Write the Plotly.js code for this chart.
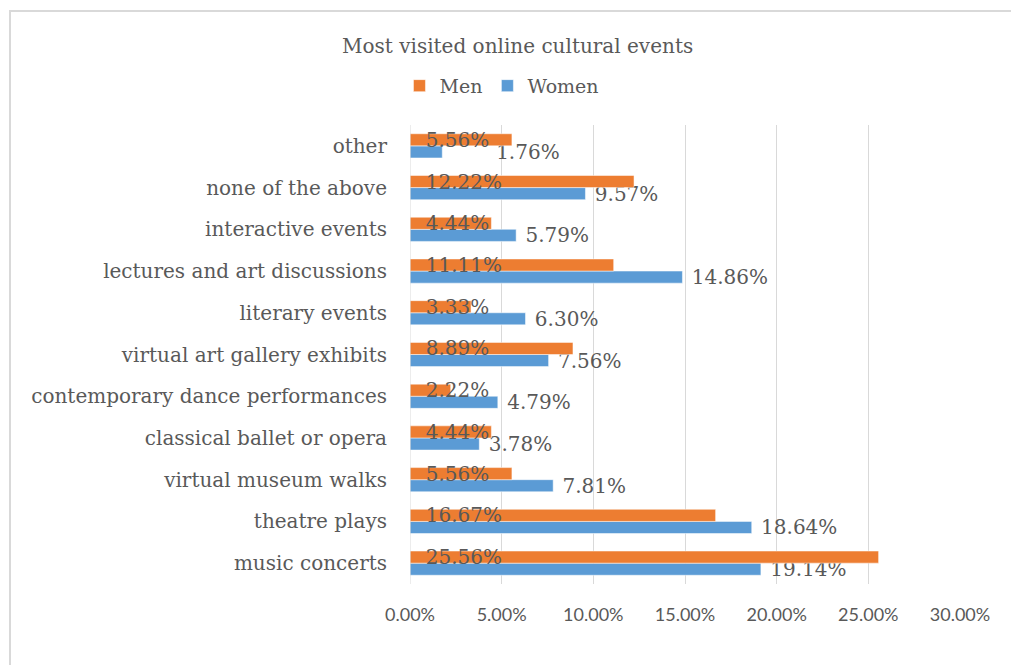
<!DOCTYPE html>
<html>
<head>
<meta charset="utf-8">
<script src="https://cdn.plot.ly/plotly-3.0.1.min.js"></script>
<style>
  html, body { margin: 0; padding: 0; background: #ffffff; }
  #wrap { position: relative; width: 1011px; height: 665px; overflow: hidden; }
  #chart { width: 1011px; height: 665px; }
  #frame { position: absolute; left: 9px; top: 10px; width: 1020px; height: 700px;
           border: 2px solid #d9d9d9; box-sizing: border-box; pointer-events: none; }
</style>
</head>
<body>
<div id="wrap">
  <div id="chart"></div>
  <div id="frame"></div>
</div>
<script>
const categories = [
  "music concerts",
  "theatre plays",
  "virtual museum walks",
  "classical ballet or opera",
  "contemporary dance performances",
  "virtual art gallery exhibits",
  "literary events",
  "lectures and art discussions",
  "interactive events",
  "none of the above",
  "other"
];
const menValues   = [25.56, 16.67, 5.56, 4.44, 2.22, 8.89, 3.33, 11.11, 4.44, 12.22, 5.56];
const womenValues = [19.14, 18.64, 7.81, 3.78, 4.79, 7.56, 6.30, 14.86, 5.79, 9.57, 1.76];
const xTicks = [0, 5, 10, 15, 20, 25, 30];
const xTickLabels = ["0.00%", "5.00%", "10.00%", "15.00%", "20.00%", "25.00%", "30.00%"];

const serif = "DejaVu Serif";
const gray = "#595959";
const nb = "\u00a0";

// Women labels sit just past the bar end; the "other" label is pushed clear of the Men label, as in the reference
const womenTemplates = categories.map(function (c) {
  return (c === "other" ? nb.repeat(8) : nb) + "%{x:.2f}%";
});

const women = {
  type: "bar", orientation: "h", name: "Women",
  y: categories, x: womenValues,
  marker: { color: "#5B9BD5", line: { color: "#ffffff", width: 0.5 } },
  texttemplate: womenTemplates,
  textposition: "outside",
  outsidetextfont: { family: serif, size: 20, color: gray },
  constraintext: "none",
  cliponaxis: false,
  legendrank: 2,
  hoverinfo: "skip"
};
const men = {
  type: "bar", orientation: "h", name: "Men",
  y: categories, x: menValues,
  marker: { color: "#ED7D31", line: { color: "#ffffff", width: 0.5 } },
  texttemplate: nb + nb + "%{x:.2f}%",
  textposition: "inside",
  insidetextanchor: "start",
  insidetextfont: { family: serif, size: 20, color: gray },
  constraintext: "none",
  cliponaxis: false,
  legendrank: 1,
  hoverinfo: "skip"
};

const layout = {
  width: 1011, height: 665,
  margin: { l: 410, r: 51, t: 125, b: 81 },
  paper_bgcolor: "#ffffff", plot_bgcolor: "#ffffff",
  font: { family: serif, color: gray },
  title: {
    text: "Most visited online cultural events",
    font: { family: serif, size: 20, color: gray },
    x: 0.512, xref: "container", xanchor: "center",
    y: 0.931, yref: "container", yanchor: "middle"
  },
  showlegend: true,
  legend: {
    orientation: "h",
    x: 0.4965, xref: "container", xanchor: "center",
    y: 0.871, yref: "container", yanchor: "middle",
    font: { family: serif, size: 19, color: gray },
    itemwidth: 30
  },
  barmode: "group",
  bargap: 0.42,
  bargroupgap: 0,
  xaxis: {
    range: [0, 30],
    tickvals: xTicks, ticktext: xTickLabels,
    showgrid: true, gridcolor: "#d9d9d9", gridwidth: 1,
    zeroline: false, showline: false,
    ticks: "", ticklabelstandoff: 18,
    tickfont: { family: "Lato", size: 18, color: gray },
    fixedrange: true
  },
  yaxis: {
    type: "category",
    categoryorder: "array", categoryarray: categories,
    showgrid: false, zeroline: false,
    showline: false,
    ticks: "", ticklabelstandoff: 22,
    tickfont: { family: serif, size: 20, color: gray },
    fixedrange: true
  },
  shapes: [{
    type: "line", xref: "x", yref: "paper",
    x0: 0, x1: 0, y0: 0, y1: 1,
    line: { color: "#d9d9d9", width: 1 }
  }]
};

Plotly.newPlot("chart", [women, men], layout, { displayModeBar: false, staticPlot: true });
</script>
</body>
</html>
